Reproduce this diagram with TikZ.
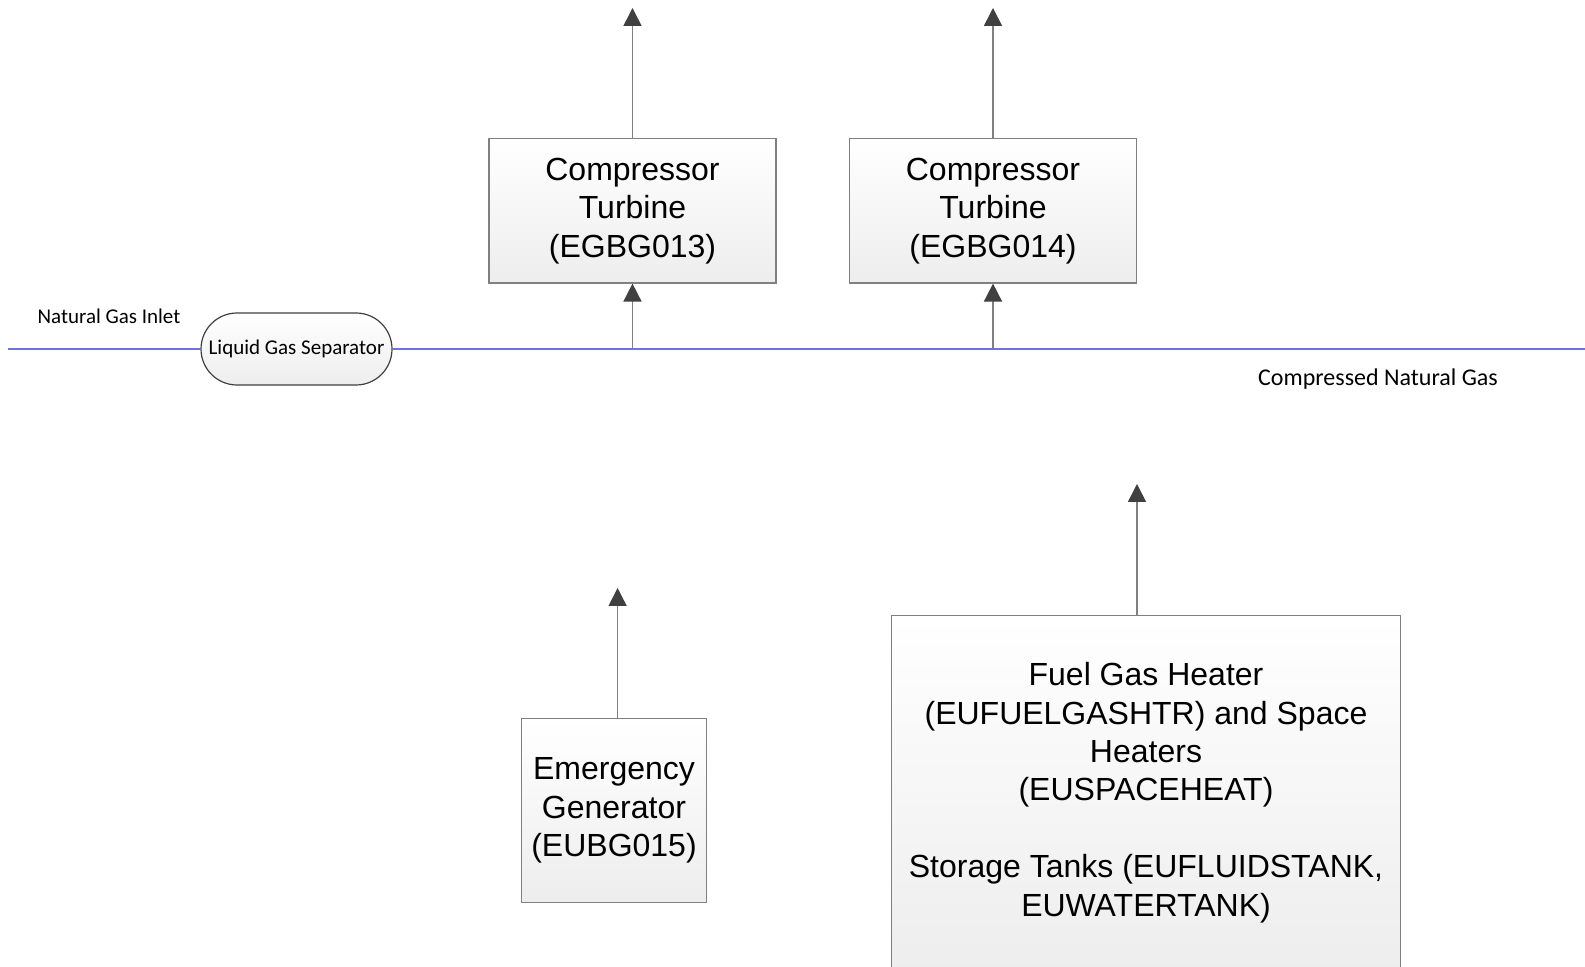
\documentclass[tikz,border=0pt]{standalone}
\usepackage{fontspec}
\setmainfont{Liberation Sans}
\newfontfamily\smallfont{Carlito}
\usetikzlibrary{arrows.meta,shapes.misc}
\definecolor{gasblue}{RGB}{112,112,232}
\definecolor{edgegray}{RGB}{128,128,128}
\definecolor{tipgray}{RGB}{64,64,64}
\tikzset{
        unit/.style={draw=edgegray, line width=0.6pt, top color=white, bottom color=black!7, align=center, inner sep=0pt, font=\fontsize{16}{19.2}\selectfont},
        separator/.style={rounded rectangle, draw=black!75, line width=0.6pt, top color=white, bottom color=black!7, inner sep=0pt, minimum width=95.5pt, minimum height=36pt, font=\smallfont\fontsize{10.5}{12.6}\selectfont},
        streamtext/.style={font=\smallfont\fontsize{10.5}{12.6}\selectfont, inner sep=0pt},
        flow/.style={draw=edgegray, line width=0.8pt, -{Triangle[width=9pt,length=9pt,color=tipgray]}},
        gasline/.style={draw=gasblue, line width=0.6pt}
          }

\begin{document}
\begin{tikzpicture}[x=0.5pt, y=-0.5pt]
      \clip (0,0) rectangle (1585,967);
      \fill[white] (0,0) rectangle (1585,967);
      \node[separator] (sep) at (296.5,349) {Liquid Gas Separator};
      \coordinate (inlet) at (8,349);
      \coordinate (outlet) at (1585,349);
      \coordinate (j1) at (632.5,349);
      \coordinate (j2) at (993,349);
      \draw[gasline] (inlet) -- (sep.west);
      \draw[gasline] (sep.east) -- (outlet);
      \node[streamtext] (inlettext) at (109,316.5) {Natural Gas Inlet};
      \node[streamtext, font=\smallfont\fontsize{12}{14.4}\selectfont] (cngtext) at (1378,379) {Compressed Natural Gas};

      \node[unit, minimum width=143.5pt, minimum height=72.25pt] (ct1) at (632.5,210.75) {Compressor\\Turbine\\(EGBG013)};
      \node[unit, minimum width=143.5pt, minimum height=72.25pt] (ct2) at (993,210.75) {Compressor\\Turbine\\(EGBG014)};
      \node[unit, minimum width=92.5pt, minimum height=92pt] (eg) at (614,810.6) {Emergency\\Generator\\(EUBG015)};
      \node[unit, minimum width=254.75pt, minimum height=177pt] (fgh) at (1146,792.6) {Fuel Gas Heater\\(EUFUELGASHTR) and Space\\Heaters\\(EUSPACEHEAT)\\[19.2pt]Storage Tanks (EUFLUIDSTANK,\\EUWATERTANK)};

      \coordinate (ct1top) at (632.5,8);
      \coordinate (ct2top) at (993,8);
      \coordinate (egtop) at (617.6,588);
      \coordinate (fghtop) at (1137,484);
      \draw[flow] (j1) -- (ct1.south);
      \draw[flow] (j2) -- (ct2.south);
      \draw[flow] (ct1.north) -- (ct1top);
      \draw[flow] (ct2.north) -- (ct2top);
      \draw[flow] (eg.north -| egtop) -- (egtop);
      \draw[flow] (fgh.north -| fghtop) -- (fghtop);
    \end{tikzpicture}
\end{document}
